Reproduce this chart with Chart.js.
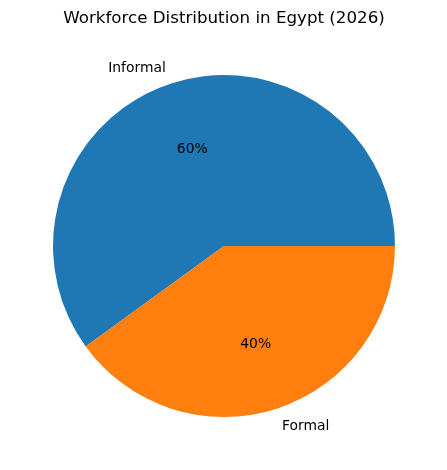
<!DOCTYPE html>
<html>
<head>
<meta charset="utf-8">
<script src="https://cdn.jsdelivr.net/npm/chart.js@4"></script>
<style>
  html, body { margin: 0; padding: 0; background: #fff; }
  #wrap { width: 447px; height: 470px; }
</style>
</head>
<body>
<div id="wrap"><canvas id="grafico"></canvas></div>
<script>
const categorias = ["Informal", "Formal"];
const valores = [60, 40];
const cores = ["#1f77b4", "#ff7f0e"];
const titulo = "Workforce Distribution in Egypt (2026)";

// rótulos estilo matplotlib: nome fora da fatia, % dentro
const rotulosPie = {
  id: "rotulosPie",
  afterDatasetsDraw(chart) {
    const ctx = chart.ctx;
    const total = valores.reduce((a, b) => a + b, 0);
    chart.getDatasetMeta(0).data.forEach((arc, i) => {
      const meio = (arc.startAngle + arc.endAngle) / 2;
      const r = arc.outerRadius;
      const cx = Math.cos(meio), cy = Math.sin(meio);
      ctx.save();
      ctx.fillStyle = "#000";
      ctx.font = "13.9px 'DejaVu Sans'";
      ctx.textBaseline = "middle";
      // porcentagem
      ctx.textAlign = "center";
      ctx.fillText(Math.round(valores[i] / total * 100) + "%", arc.x + cx * r * 0.6, arc.y + cy * r * 0.6 + 1);
      // nome
      ctx.textAlign = cx < 0 ? "right" : "left";
      ctx.fillText(categorias[i], arc.x + cx * r * 1.1, arc.y + cy * r * 1.1 + 1);
      ctx.restore();
    });
  }
};

new Chart(document.getElementById("grafico"), {
  type: "pie",
  data: {
    labels: categorias,
    datasets: [{
      data: valores,
      backgroundColor: cores,
      borderWidth: 0,
      hoverOffset: 0
    }]
  },
  options: {
    responsive: true,
    maintainAspectRatio: false,
    animation: false,
    rotation: 234,
    layout: { padding: { top: 1, left: 53, right: 52, bottom: 53 } },
    plugins: {
      legend: { display: false },
      tooltip: { enabled: false },
      title: {
        display: true,
        text: titulo,
        color: "#000",
        font: { family: "'DejaVu Sans'", size: 16.7, weight: "normal" },
        padding: { top: 8, bottom: 46 }
      }
    }
  },
  plugins: [rotulosPie]
});
</script>
</body>
</html>
